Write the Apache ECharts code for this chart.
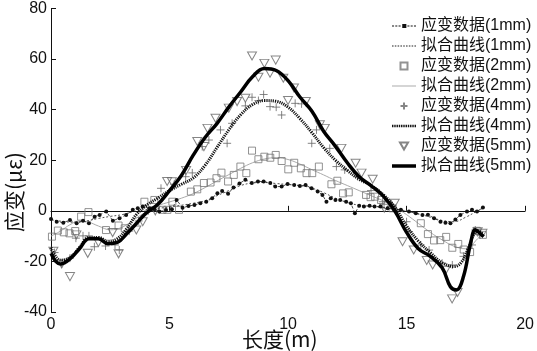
<!DOCTYPE html>
<html><head><meta charset="utf-8">
<script src="https://cdn.jsdelivr.net/npm/echarts@6/dist/echarts.min.js"></script>
<style>html,body{margin:0;padding:0;background:#fff}#c{width:537px;height:351px}</style>
</head><body><div id="c"></div>
<script>
const seriesNames = ['应变数据(1mm)','拟合曲线(1mm)','应变数据(2mm)','拟合曲线(2mm)','应变数据(4mm)','拟合曲线(4mm)','应变数据(5mm)','拟合曲线(5mm)'];
const xAxisName = '长度(m)';
const yAxisName = '应变(με)';
const xTicks = [0,5,10,15,20];
const yTicks = [-40,-20,0,20,40,60,80];

// 1mm data
const x1 = [0,0.24,0.52,0.8,1.08,1.35,1.6,1.84,2.05,2.33,2.61,2.89,3.17,3.45,3.66,3.87,4.15,4.37,4.57,4.85,5.1,5.3,5.55,5.8,6.05,6.3,6.55,6.8,7.02,7.22,7.47,7.7,7.95,8.2,8.47,8.73,8.97,9.25,9.46,9.73,9.98,10.26,10.5,10.74,10.99,11.25,11.45,11.62,11.8,12.0,12.2,12.45,12.65,12.82,13.0,13.2,13.44,13.65,13.9,14.2,14.48,14.76,15.1,15.39,15.67,15.9,16.16,16.43,16.64,16.85,17.06,17.27,17.55,17.76,17.97,18.22];
const y1 = [-3.2,-4.3,-4.7,-3.6,-4.9,-3.9,-4.9,-2.3,-1.6,-0.3,-3.9,-2.9,-1.6,0.4,1.0,1.7,1.0,0.6,-0.3,0.3,0.6,4.3,1.2,1.9,2.3,3.0,3.6,5.0,7.0,7.8,6.8,9.2,10.8,12.3,11.0,11.6,11.6,11.0,9.6,9.6,10.6,10.2,9.8,10.2,8.9,7.6,6.3,3.6,5.0,4.3,4.3,3.6,3.0,-1.0,2.0,1.7,2.0,1.7,1.7,1.0,0.4,0.4,-0.3,-1.0,-1.6,-1.5,-2.9,-4.3,-4.7,-4.9,-3.4,-1.6,-0.3,0.4,-0.3,1.3];
// 1mm fit
const xf1 = [0,0.5,1,1.5,2,2.5,3,3.5,4,4.5,5,5.5,6,6.5,7,7.5,8,8.5,9,9.5,10,10.5,11,11.5,12,12.5,13,13.5,14,14.5,15,15.5,16,16.5,17,17.5,18,18.2];
const yf1 = [-3.5,-4.2,-4.5,-4,-3,-2.2,-1.5,-0.3,0.5,1,1.5,2.2,3,4,6,8,10,11,11.2,10.8,10.4,10,9,7.2,5,3.3,2.2,1.8,1.2,0.6,-0.2,-1.2,-2.5,-3.8,-4.3,-2.5,0,0.8];

// 2mm data
const x2 = [0.04,0.29,0.54,0.78,1.02,1.27,1.58,2.32,2.85,3.11,3.94,4.36,4.7,4.91,5.12,5.4,5.9,6.17,6.45,6.73,6.98,7.19,7.47,7.71,7.99,8.24,8.48,8.75,9.0,9.25,9.48,9.73,10.01,10.26,10.54,10.78,11.02,11.3,11.83,12.08,12.32,12.56,13.29,13.48,13.67,13.92,14.2,14.41,15.6,15.9,16.16,16.42,16.67,16.93,17.18,17.41,17.68,17.96,18.22];
const y2 = [-10.2,-7.8,-8.5,-8.9,-8,-2.3,-0.5,-7.6,-5.8,-6.9,3.6,4.3,0.4,0.4,3.6,0.4,7.6,8.5,11,11.2,12.9,15.1,11.6,14.2,17.5,14.9,23.8,20.4,21.4,21,22.1,19.7,16.4,19,16.8,14.9,14.9,17.5,10.5,11.9,6.9,7.3,6.3,5.4,5.6,4.3,2.3,1,-4.9,-9.2,-11.7,-11.6,-10.3,-14.6,-13.1,-15.3,-16.3,-7.9,-9.5];
// 2mm fit
const xf2 = [0,0.4,0.8,1.2,1.6,2,2.5,3,3.5,4,4.5,5,5.5,6,6.5,7,7.5,8,8.5,9,9.5,10,10.5,11,11.5,12,12.5,13,13.5,14,14.5,15,15.5,16,16.5,17,17.5,18,18.2];
const yf2 = [-10,-8,-5.5,-4,-4.5,-6,-7.5,-6.5,-3.5,-0.5,2,3.5,5,6.8,9.2,11.8,14.3,16.8,19,20.5,21,20.3,18.5,16.3,14.2,12,10,8,6,4,1.5,-1.5,-5,-8.5,-11.5,-14,-15,-11,-9];

// 4mm data
const x4 = [0.15,0.45,0.8,1.05,1.35,1.6,1.83,2.3,2.7,2.88,3.3,3.7,4.1,4.64,5.2,5.68,5.96,6.38,6.66,7.15,7.43,7.64,8.2,8.48,8.75,8.97,9.24,9.5,9.73,10.3,10.57,11.0,11.2,11.76,12.04,12.39,12.94,13.5,13.99,14.4,15.0,15.1,15.6,15.95,16.5,16.93,17.4,17.76,17.9,18.1];
const y4 = [-16.5,-21,-18.7,-10.8,-9.9,-9.9,-14.2,-13.9,-13.5,-15.5,-8,-4,0,8.9,10.5,13.5,15,25.4,28,32,26.7,34.6,41.5,44.9,43.6,46,41.2,41,37.9,42.5,42.3,26.7,32,24.7,17.5,16.2,13.5,8,3.6,1.7,-4.3,-8.2,-13.5,-15.5,-20.7,-21.4,-18,-13.5,-7.6,-9.5];
// 4mm fit
const xf4 = [0,0.4,0.8,1.2,1.6,2,2.4,2.8,3.2,3.6,4,4.5,5,5.5,6,6.5,7,7.5,8,8.5,9,9.5,10,10.5,11,11.5,12,12.5,13,13.5,14,14.5,15,15.5,16,16.5,17,17.3,17.6,17.8,18,18.2];
const yf4 = [-14.5,-19.5,-18.5,-14.5,-10.5,-10.5,-12,-11,-7,-1.5,2,5,8,10.5,13,18,25,32,38,42,43.6,43.3,41,36.5,31,25,20,16,12.5,10,6.5,1.5,-6,-12,-16.5,-20.5,-22,-20.5,-15,-10,-8,-9];

// 5mm data
const x5 = [0.1,0.45,0.8,1.07,1.55,2.0,2.6,2.85,3.6,3.87,4.4,4.9,5.1,5.7,6.17,6.45,6.6,6.94,7.5,7.85,8.2,8.48,8.75,9.0,9.24,9.48,9.8,10.0,10.25,10.75,11.34,11.55,12.25,12.85,13.1,13.57,14.06,14.5,14.83,15.3,15.85,16.1,16.65,16.92,17.15,18.0,18.2];
const y5 = [-16,-21,-26,-9.5,-16.8,-12.5,-8.6,-17,-7.6,-4.3,0,11.6,11.5,16,27.4,25.4,32.6,36.6,40.6,43.2,44.5,61.2,52.8,58.3,54.4,59.6,52.4,43.6,48.6,43.2,34,32.6,24.7,18.8,14.9,12.5,1,3,-12.2,-15.5,-19.6,-21.4,-23.5,-34.8,-32.3,-8.3,-8.9];
// 5mm fit
const xf5 = [0,0.2,0.4,0.8,1.2,1.6,2.0,2.4,2.8,3.2,3.6,4.0,4.5,5,5.5,6,6.5,7,7.5,8,8.5,9,9.5,10,10.5,11,11.5,12,12.5,13,13.5,14,14.5,15,15.5,16,16.5,16.85,17.1,17.4,17.7,17.9,18.1,18.25];
const yf5 = [-16.8,-20,-21,-19,-15,-11,-11,-13,-12.5,-9,-5,-1,2.5,8,14,22,29,34.5,41,47,53,56.3,55.5,51.5,45,39.5,31.5,25.5,19,13.5,10,6,0,-8.5,-15,-18,-22.5,-30,-31.3,-26,-12.8,-7.5,-8.9,-10.2];

const pairs = (xs, ys) => xs.map((x, i) => [x, ys[i]]);
const plusPath = 'path://M0,5L10,5M5,0L5,10';
const triPath = 'path://M0,0L10,0L5,8.66Z';
const squarePath = 'path://M0,0h10v10h-10z';
// legend icon paths made of small rectangles (line samples)
function dashIcon(total, dash, gap, h, y, x0) {
  let p = '', x = 0;
  x0 = x0 || 0;
  while (x < total - 0.01) {
    const w = Math.min(dash, total - x);
    p += 'M' + (x + x0) + ',' + y + 'h' + w + 'v' + h + 'h' + (-w) + 'z';
    x += dash + gap;
  }
  return p;
}
const icon1mmData = 'path://' + dashIcon(9, 2, 1.2, 1, 1.5, 0) + 'M10,0h4v4h-4z' + dashIcon(9, 2, 1.2, 1, 1.5, 15);
const icon1mmFit = 'path://' + dashIcon(24, 1.5, 1.2, 1, 0, 0);
const icon2mmFit = 'path://M0,0h24v1h-24z';
const icon4mmFit = 'path://' + dashIcon(24, 1.4, 0.8, 2.6, 0, 0);
const icon5mmFit = 'path://M0,0h24v3.5h-24z';

const option = {
  animation: false,
  backgroundColor: '#fff',
  textStyle: {fontFamily: 'Arial, Liberation Sans, Noto Sans CJK SC'},
  grid: {left: 51, right: 9, top: 8.5, bottom: 39},
  legend: {
    orient: 'vertical', left: 387, top: 13,
    itemWidth: 24, itemHeight: 7, itemGap: 4,
    textStyle: {fontSize: 16, color: '#111', lineHeight: 16, fontFamily: 'Arial, Liberation Sans, Noto Sans CJK SC'},
    data: [
      {name: seriesNames[0], icon: icon1mmData},
      {name: seriesNames[1], icon: icon1mmFit},
      {name: seriesNames[2], icon: squarePath},
      {name: seriesNames[3], icon: icon2mmFit},
      {name: seriesNames[4], icon: plusPath},
      {name: seriesNames[5], icon: icon4mmFit},
      {name: seriesNames[6], icon: triPath},
      {name: seriesNames[7], icon: icon5mmFit}
    ]
  },
  graphic: [
    {type: 'text', left: 242, top: 329, silent: true,
     style: {text: xAxisName, fontSize: 21, fill: '#111', fontFamily: 'Noto Sans CJK SC'}},
    {type: 'text', x: 4, y: 232, rotation: Math.PI / 2, silent: true,
     style: {text: yAxisName, fontSize: 21, fill: '#111', fontFamily: 'Noto Sans CJK SC', align: 'left', verticalAlign: 'top'}}
  ],
  xAxis: {
    type: 'value', min: xTicks[0], max: xTicks[xTicks.length-1], interval: 5,
    axisLine: {lineStyle: {color: '#111', width: 1}},
    axisTick: {inside: true, length: 5, lineStyle: {color: '#111'}},
    axisLabel: {fontSize: 16, color: '#111', margin: 5},
    splitLine: {show: false}
  },
  yAxis: {
    type: 'value', min: yTicks[0], max: yTicks[yTicks.length-1], interval: 20,
    axisLine: {show: true, lineStyle: {color: '#111', width: 1}},
    axisTick: {inside: true, length: 5, lineStyle: {color: '#111'}},
    axisLabel: {fontSize: 16, color: '#111', margin: 4},
    splitLine: {show: false}
  },
  series: [
    {name: seriesNames[0], type: 'line', data: pairs(x1, y1), symbol: 'circle', symbolSize: 4,
     itemStyle: {color: '#111'}, lineStyle: {color: '#222', width: 0.8, type: [3, 2]}, z: 3},
    {name: seriesNames[1], type: 'line', data: pairs(xf1, yf1), symbol: 'none', smooth: 0.4,
     lineStyle: {color: '#222', width: 0.8, type: [2, 2]}, itemStyle: {color: '#222'}, z: 3},
    {name: seriesNames[2], type: 'scatter', data: pairs(x2, y2), symbol: squarePath, symbolSize: 7,
     itemStyle: {color: 'rgba(0,0,0,0)', borderColor: '#777', borderWidth: 1}, z: 2},
    {name: seriesNames[3], type: 'line', data: pairs(xf2, yf2), symbol: 'none', smooth: 0.4,
     lineStyle: {color: '#aaa', width: 1}, itemStyle: {color: '#aaa'}, z: 2},
    {name: seriesNames[4], type: 'scatter', data: pairs(x4, y4), symbol: plusPath, symbolSize: 8,
     itemStyle: {color: 'rgba(0,0,0,0)', borderColor: '#666', borderWidth: 1}, z: 2},
    {name: seriesNames[5], type: 'line', data: pairs(xf4, yf4), symbol: 'none', smooth: 0.4,
     lineStyle: {color: '#111', width: 3, type: [1.2, 1]}, itemStyle: {color: '#111'}, z: 4},
    {name: seriesNames[6], type: 'scatter', data: pairs(x5, y5), symbol: triPath, symbolSize: [9, 8],
     itemStyle: {color: 'rgba(0,0,0,0)', borderColor: '#666', borderWidth: 1}, z: 2},
    {name: seriesNames[7], type: 'line', data: pairs(xf5, yf5), symbol: 'none', smooth: 0.4,
     lineStyle: {color: '#000', width: 3.5}, itemStyle: {color: '#000'}, z: 5}
  ]
};
const chart = echarts.init(document.getElementById('c'), null, {renderer: 'canvas'});
chart.setOption(option);
</script></body></html>
